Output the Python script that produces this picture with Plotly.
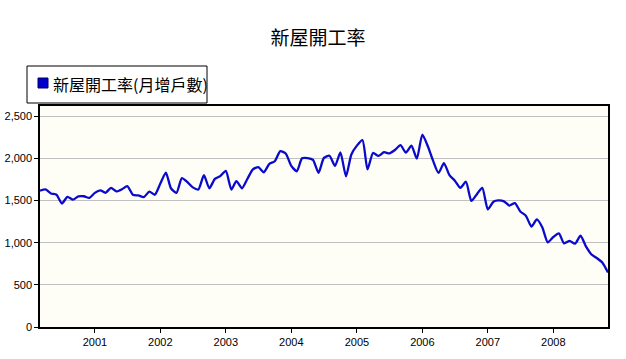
import plotly.graph_objects as go
import pandas as pd

# Monthly housing starts, Mar 2000 – Nov 2008
start_month = "2000-03-01"
values = [
    # 2000 (Mar–Dec)
    1615, 1631, 1583, 1568, 1464, 1543, 1510, 1548, 1550, 1530,
    # 2001
    1590, 1620, 1590, 1650, 1607, 1633, 1670, 1567, 1560, 1540, 1605, 1568,
    # 2002
    1700, 1830, 1645, 1590, 1765, 1717, 1655, 1630, 1800, 1645, 1755, 1788,
    # 2003
    1850, 1630, 1730, 1645, 1755, 1870, 1895, 1834, 1935, 1965, 2085, 2057,
    # 2004
    1911, 1846, 2000, 2003, 1981, 1828, 2005, 2030, 1910, 2070, 1786, 2045,
    # 2005
    2150, 2215, 1868, 2063, 2028, 2072, 2058, 2098, 2155, 2067, 2150, 1995,
    # 2006
    2280, 2140, 1975, 1826, 1942, 1800, 1735, 1650, 1722, 1495, 1575, 1650,
    # 2007
    1395, 1485, 1500, 1490, 1440, 1468, 1370, 1320, 1191, 1275, 1180, 1004,
    # 2008 (Jan–Nov)
    1067, 1110, 992, 1020, 988, 1082, 955, 860, 815, 762, 645,
]
dates = pd.date_range(start_month, periods=len(values), freq="MS")

year_ticks = ["2001", "2002", "2003", "2004", "2005", "2006", "2007", "2008"]
y_ticks = [0, 500, 1000, 1500, 2000, 2500]

title_text = "新屋開工率"
series_name = "新屋開工率(月增戶數)"

line_color = "#0A0ACC"
swatch_color = "#0000CC"

# plot-area geometry in pixels
W, H = 626, 359
L, R, T, B = 40, 608, 106, 327
PW, PH = R - L, B - T


def px_x(p):
    return (p - L) / PW


def px_y(p):
    return (B - p) / PH


fig = go.Figure()
fig.add_trace(go.Scatter(
    x=dates, y=values, mode="lines",
    line=dict(color=line_color, width=2.3, shape="spline", smoothing=0.6),
    showlegend=False, name=series_name,
))

tick_font = dict(family="Liberation Sans, Arial, sans-serif", size=11, color="#000000")
cjk = "Noto Sans CJK TC, Noto Sans CJK SC, sans-serif"

# legend box drawn as shapes + annotation
fig.add_shape(type="rect", xref="paper", yref="paper",
              x0=px_x(27), x1=px_x(207), y0=px_y(103), y1=px_y(66),
              line=dict(color="#000000", width=1), fillcolor="#FFFFFF")
fig.add_shape(type="rect", xref="paper", yref="paper",
              x0=px_x(38), x1=px_x(48), y0=px_y(88), y1=px_y(78),
              line=dict(color="#000066", width=1), fillcolor=swatch_color)
fig.add_annotation(text=series_name, xref="paper", yref="paper",
                   x=px_x(51), y=px_y(84), xanchor="left", yanchor="middle",
                   showarrow=False,
                   font=dict(family=cjk, size=16, color="#000000"))

fig.update_layout(
    width=W, height=H,
    margin=dict(l=L, r=W - R, t=T, b=H - B, autoexpand=False),
    paper_bgcolor="#FFFFFF",
    plot_bgcolor="#FFFEF6",
    title=dict(text=title_text, x=318 / W, xanchor="center", y=1 - 38 / H, yanchor="middle",
               font=dict(family=cjk, size=19, color="#000000")),
    showlegend=False,
)

fig.update_xaxes(
    type="date",
    range=[dates[0], dates[-1]],
    tickvals=[pd.Timestamp(f"{y}-01-01") for y in year_ticks],
    ticktext=year_ticks,
    ticks="outside", ticklen=4, tickcolor="#000000",
    showgrid=False, zeroline=False,
    showline=True, linecolor="#000000", linewidth=1.5, mirror=True,
    tickfont=tick_font,
)
fig.update_yaxes(
    range=[0, 2620],
    tickvals=y_ticks,
    tickformat=",d",
    ticks="outside", ticklen=4, tickcolor="#000000",
    showgrid=True, gridcolor="#C0C0C0", gridwidth=1,
    zeroline=False,
    showline=True, linecolor="#000000", linewidth=1.5, mirror=True,
    tickfont=tick_font,
)

fig.write_html("out.html", config={"displayModeBar": False},
               post_script="document.body.style.margin='0px';")
